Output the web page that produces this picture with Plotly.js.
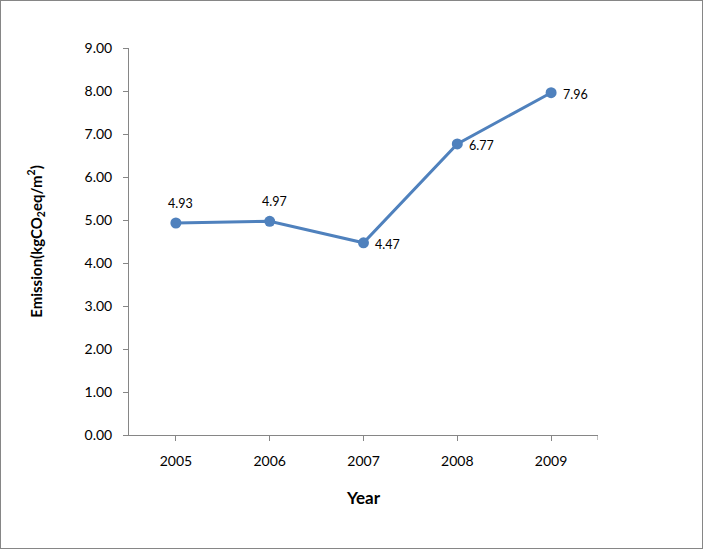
<!DOCTYPE html>
<html>
<head>
<meta charset="utf-8">
<script src="https://cdn.plot.ly/plotly-3.0.1.min.js"></script>
<style>
html,body{margin:0;padding:0;background:#fff;}
#chart{width:701px;height:547px;border:1px solid #868686;}
</style>
</head>
<body>
<div id="chart"></div>
<script>
var years = ['2005', '2006', '2007', '2008', '2009'];
var emission = [4.93, 4.97, 4.47, 6.77, 7.96];
var labelText = ['4.93', '4.97', '4.47', '6.77', '7.96'];
var labelPlacement = ['above', 'above', 'right', 'right', 'right'];

var fontFam = 'Lato, Open Sans, Liberation Sans, sans-serif';

var annotations = [];
for (var i = 0; i < years.length; i++) {
  var above = labelPlacement[i] === 'above';
  annotations.push({
    x: i, y: emission[i], xref: 'x', yref: 'y',
    text: labelText[i], showarrow: false,
    xshift: above ? 5 : 24, yshift: above ? 20 : -2,
    font: {family: fontFam, size: 12.5, color: '#000000'}
  });
}

var trace = {
  x: years, y: emission, type: 'scatter', mode: 'lines+markers',
  line: {color: '#4F81BD', width: 3},
  marker: {color: '#4F81BD', size: 11},
  hoverinfo: 'x+y'
};

var layout = {
  width: 701, height: 547,
  margin: {l: 128, r: 104, t: 47, b: 113},
  paper_bgcolor: '#fff', plot_bgcolor: '#fff',
  showlegend: false,
  font: {family: fontFam, size: 14, color: '#000'},
  xaxis: {
    type: 'category', range: [-0.5, 4.5],
    showgrid: false, zeroline: false,
    showline: true, linecolor: '#868686', linewidth: 1,
    ticks: 'outside', ticklen: 5, tickcolor: '#868686',
    ticklabelstandoff: 8,
    tickfont: {family: fontFam, size: 14, color: '#000'},
    title: {text: 'Year', font: {family: fontFam, size: 17, color: '#000', weight: 'bold'}, standoff: 24}
  },
  yaxis: {
    range: [0, 9], dtick: 1, tickformat: '.2f',
    showgrid: false, zeroline: false,
    showline: true, linecolor: '#868686', linewidth: 1,
    ticks: 'outside', ticklen: 5, tickcolor: '#868686',
    ticklabelstandoff: 8,
    tickfont: {family: fontFam, size: 14, color: '#000'},
    title: {text: 'Emission(kgCO<sub>2</sub>eq/m<sup>2</sup>)', font: {family: fontFam, size: 15, color: '#000', weight: 'bold'}, standoff: 38}
  },
  annotations: annotations,
  shapes: [{
    type: 'line', xref: 'x', yref: 'paper', x0: 4.5, x1: 4.5,
    y0: 0, y1: -5 / (547 - 47 - 113),
    line: {color: '#868686', width: 1}
  }]
};

Plotly.newPlot('chart', [trace], layout, {displayModeBar: false});
</script>
</body>
</html>
